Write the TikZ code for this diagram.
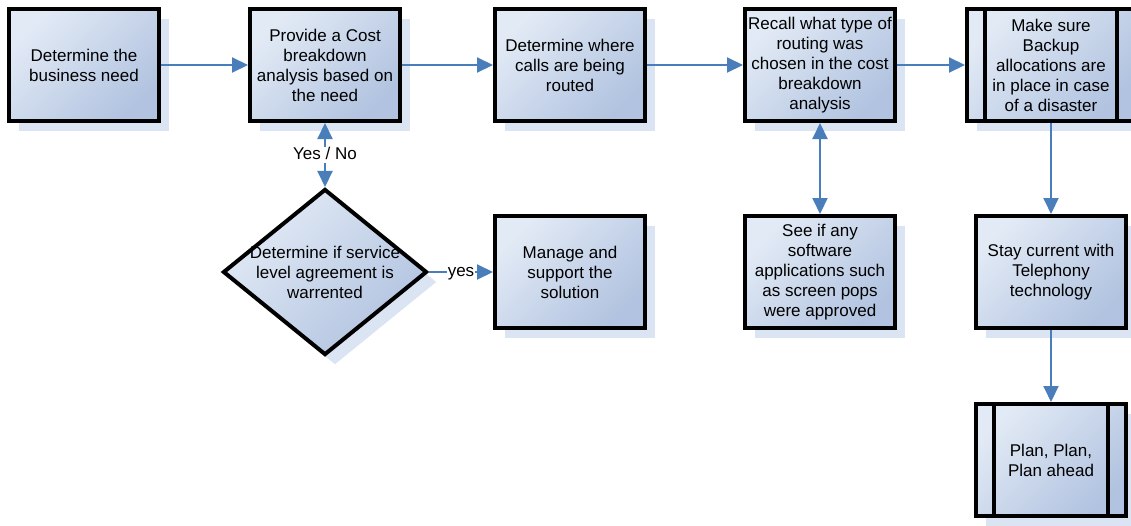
\documentclass[tikz,border=0pt]{standalone}
\usepackage{fontspec}
\setmainfont{Liberation Sans}
\usetikzlibrary{arrows.meta,shapes.geometric,shadows}
\definecolor{arr}{HTML}{4A7EBB}
\definecolor{fa}{HTML}{E2EAF5}
\definecolor{fb}{HTML}{B1C3E0}
\definecolor{shc}{HTML}{DAE4F2}
\begin{document}
\begin{tikzpicture}[x=1pt,y=-1pt,
  boxbase/.style={draw=black, line width=4pt, inner sep=0pt,
    top color=fa, bottom color=fb, shading angle=45,
    drop shadow={shadow xshift=10pt,shadow yshift=-10pt,fill=shc,opacity=1},
    font=\fontsize{17}{20}\selectfont, align=center},
  box/.style={boxbase, rectangle, minimum width=150pt, minimum height=112pt},
  dia/.style={boxbase, diamond, minimum width=204pt, minimum height=166pt},
  txt/.style={font=\fontsize{17}{20}\selectfont, align=center, inner sep=0pt},
  bar/.style={draw=black, line width=4pt},
  conn/.style={draw=arr, line width=2pt, -{Triangle[length=16pt,width=15pt]}},
  dconn/.style={draw=arr, line width=2pt, {Triangle[length=16pt,width=15pt]}-{Triangle[length=16pt,width=15pt]}},
  lbl/.style={fill=white, font=\fontsize{17}{20}\selectfont, inner xsep=1pt, inner ysep=0pt, text height=12pt, text depth=4pt}
]
\useasboundingbox (0,0) rectangle (1131,525);
\clip (0,0) rectangle (1131,525);

\node[box] (b1) at (84,65) {Determine the\\business need};
\node[box] (b2) at (325,65) {Provide a Cost\\breakdown\\analysis based on\\the need};
\node[box] (b3) at (570,65) {Determine where\\calls are being\\routed};
\node[box] (b4) at (820,65) {Recall what type of\\routing was\\chosen in the cost\\breakdown\\analysis};
\node[box, minimum width=168pt] (b5) at (1051,65) {Make sure\\Backup\\allocations are\\in place in case\\of a disaster};
\draw[bar] ([xshift=20pt]b5.north west) -- ([xshift=20pt]b5.south west);
\draw[bar] ([xshift=-20pt]b5.north east) -- ([xshift=-20pt]b5.south east);

\node[dia] (d) at (325,272) {};
\node[txt] (dt) at (d.center) {Determine if service\\level agreement is\\warrented};
\node[box] (m) at (570,272) {Manage and\\support the\\solution};
\node[box] (s) at (820,272) {See if any\\software\\applications such\\as screen pops\\were approved};
\node[box] (b6) at (1051,272) {Stay current with\\Telephony\\technology};
\node[box] (b7) at (1051,460) {Plan, Plan,\\Plan ahead};
\draw[bar] ([xshift=20pt]b7.north west) -- ([xshift=20pt]b7.south west);
\draw[bar] ([xshift=-20pt]b7.north east) -- ([xshift=-20pt]b7.south east);

\draw[conn] (b1) -- (b2);
\draw[conn] (b2) -- (b3);
\draw[conn] (b3) -- (b4);
\draw[conn] (b4) -- (b5);
\draw[dconn] (b2) -- node[lbl] {Yes / No} (d);
\draw[conn] (d) -- node[lbl] {yes} (m);
\draw[dconn] (b4) -- (s);
\draw[conn] (b5) -- (b6);
\draw[conn] (b6) -- (b7);
\end{tikzpicture}
\end{document}
